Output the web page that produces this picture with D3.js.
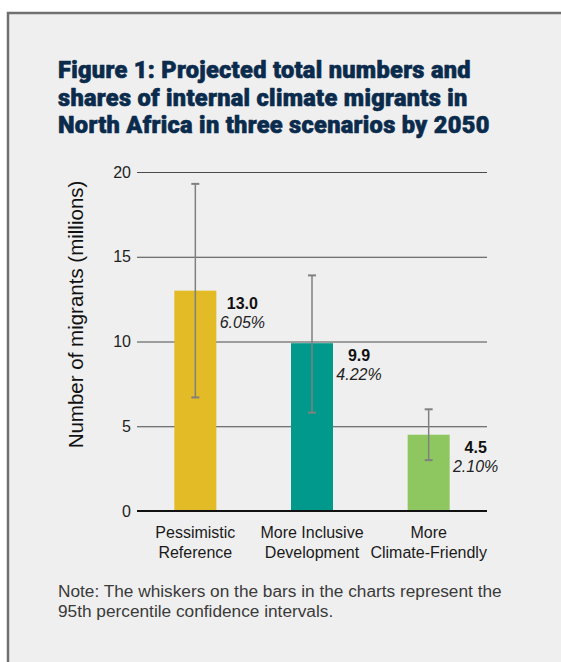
<!DOCTYPE html>
<html>
<head>
<meta charset="utf-8">
<script src="https://cdn.jsdelivr.net/npm/d3@7/dist/d3.min.js"></script>
<style>
  html, body { margin: 0; padding: 0; background: #ffffff; }
  svg { display: block; }
</style>
</head>
<body>
<div id="chart"></div>
<script>
// ---- data ----
const categories = ["Pessimistic Reference", "More Inclusive Development", "More Climate-Friendly"];
const categoryLines = [["Pessimistic", "Reference"], ["More Inclusive", "Development"], ["More", "Climate-Friendly"]];
const values = [13.0, 9.9, 4.5];
const lowerCI = [6.7, 5.8, 3.0];
const upperCI = [19.3, 13.9, 6.0];
const valueLabels = ["13.0", "9.9", "4.5"];
const shareLabels = ["6.05%", "4.22%", "2.10%"];
const barColors = ["#e2bb26", "#00998b", "#8ec760"];
const yTicks = [0, 5, 10, 15, 20];
const titleLines = [
  "Figure 1: Projected total numbers and",
  "shares of internal climate migrants in",
  "North Africa in three scenarios by 2050"
];
const yTitle = "Number of migrants (millions)";
const noteLines = [
  "Note: The whiskers on the bars in the charts represent the",
  "95th percentile confidence intervals."
];

// ---- layout ----
const W = 561, H = 662;
const font = "'Liberation Sans', Arial, Helvetica, sans-serif";
const plot = { left: 137, right: 487, top: 172, bottom: 511 };

const svg = d3.select("#chart").append("svg")
  .attr("width", W).attr("height", H);

// panel
svg.append("rect")
  .attr("x", 8).attr("y", 13)
  .attr("width", W + 20).attr("height", H + 20)
  .attr("fill", "#efefef")
  .attr("stroke", "#707070")
  .attr("stroke-width", 2.5);

// title
const tg = svg.append("g");
const tLines = tg.selectAll("text").data(titleLines).join("text")
  .attr("x", 58)
  .attr("y", (d, i) => 78.3 + i * 27.5)
  .attr("fill", "#0a2b4c")
  .attr("stroke", "#0a2b4c")
  .attr("stroke-width", 0.6)
  .attr("stroke-linejoin", "round")
  .attr("letter-spacing", 0.3)
  .attr("font-family", "Roboto, 'Liberation Sans', Arial, sans-serif")
  .attr("font-weight", 900)
  .attr("font-size", 20)
  .text(d => d);
// fit title width to reference (last line ~436px)
const w3 = tLines.nodes()[2].getComputedTextLength();
if (w3 > 0) tLines.attr("font-size", 20 * 434 / w3);

// scales
const y = d3.scaleLinear().domain([0, 20]).range([plot.bottom, plot.top]);
const x = d3.scaleBand().domain(categories).range([plot.left, plot.right])
  .paddingInner(0.64).paddingOuter(0.32);

// y axis with gridlines
const yAxis = svg.append("g")
  .attr("transform", `translate(${plot.left},0)`)
  .call(d3.axisLeft(y).tickValues(yTicks).tickSize(-(plot.right - plot.left)).tickPadding(6));
yAxis.select(".domain").remove();
yAxis.selectAll(".tick line").attr("stroke", "#4a4a4a").attr("stroke-width", 1);
yAxis.selectAll(".tick text")
  .attr("font-family", font).attr("font-size", 16).attr("fill", "#222");

// bars
svg.append("g").selectAll("rect").data(categories).join("rect")
  .attr("x", d => x(d))
  .attr("y", (d, i) => y(values[i]))
  .attr("width", x.bandwidth())
  .attr("height", (d, i) => y(0) - y(values[i]))
  .attr("fill", (d, i) => barColors[i]);

// zero baseline
svg.append("line")
  .attr("x1", plot.left).attr("x2", plot.right)
  .attr("y1", y(0)).attr("y2", y(0))
  .attr("stroke", "#111").attr("stroke-width", 2);

// error bars
const eg = svg.append("g").attr("stroke", "#808080");
categories.forEach((c, i) => {
  const cx = x(c) + x.bandwidth() / 2;
  eg.append("line").attr("x1", cx).attr("x2", cx)
    .attr("y1", y(lowerCI[i])).attr("y2", y(upperCI[i]))
    .attr("stroke-width", 1.5);
  [lowerCI[i], upperCI[i]].forEach(v => {
    eg.append("line").attr("x1", cx - 4).attr("x2", cx + 4)
      .attr("y1", y(v)).attr("y2", y(v)).attr("stroke-width", 2);
  });
});

// value labels
const lg = svg.append("g").attr("font-family", font).attr("font-size", 16).attr("fill", "#111")
  .attr("text-anchor", "middle");
categories.forEach((c, i) => {
  const lx = x(c) + x.bandwidth() + 26;
  lg.append("text").attr("x", lx).attr("y", y(values[i]) + 18)
    .attr("font-weight", "bold").text(valueLabels[i]);
  lg.append("text").attr("x", lx).attr("y", y(values[i]) + 37)
    .attr("font-style", "italic").attr("fill", "#222").text(shareLabels[i]);
});

// category labels
const cg = svg.append("g").attr("font-family", font).attr("font-size", 16).attr("fill", "#1a1a1a")
  .attr("text-anchor", "middle");
categories.forEach((c, i) => {
  const cx = x(c) + x.bandwidth() / 2;
  categoryLines[i].forEach((ln, j) => {
    cg.append("text").attr("x", cx).attr("y", y(0) + 27 + j * 19.5).text(ln);
  });
});

// y axis title
svg.append("text")
  .attr("transform", "rotate(-90)")
  .attr("x", -314.5).attr("y", 83)
  .attr("text-anchor", "middle")
  .attr("font-family", font).attr("font-size", 20.5).attr("fill", "#111")
  .text(yTitle);

// note
const nLines = svg.append("g").selectAll("text").data(noteLines).join("text")
  .attr("x", 58).attr("y", (d, i) => 596.7 + i * 20)
  .attr("font-family", font).attr("font-size", 16).attr("fill", "#3a3a3a")
  .text(d => d);
const wn = nLines.nodes()[0].getComputedTextLength();
if (wn > 0) nLines.attr("font-size", Math.min(18, 16 * 444 / wn));
</script>
</body>
</html>
